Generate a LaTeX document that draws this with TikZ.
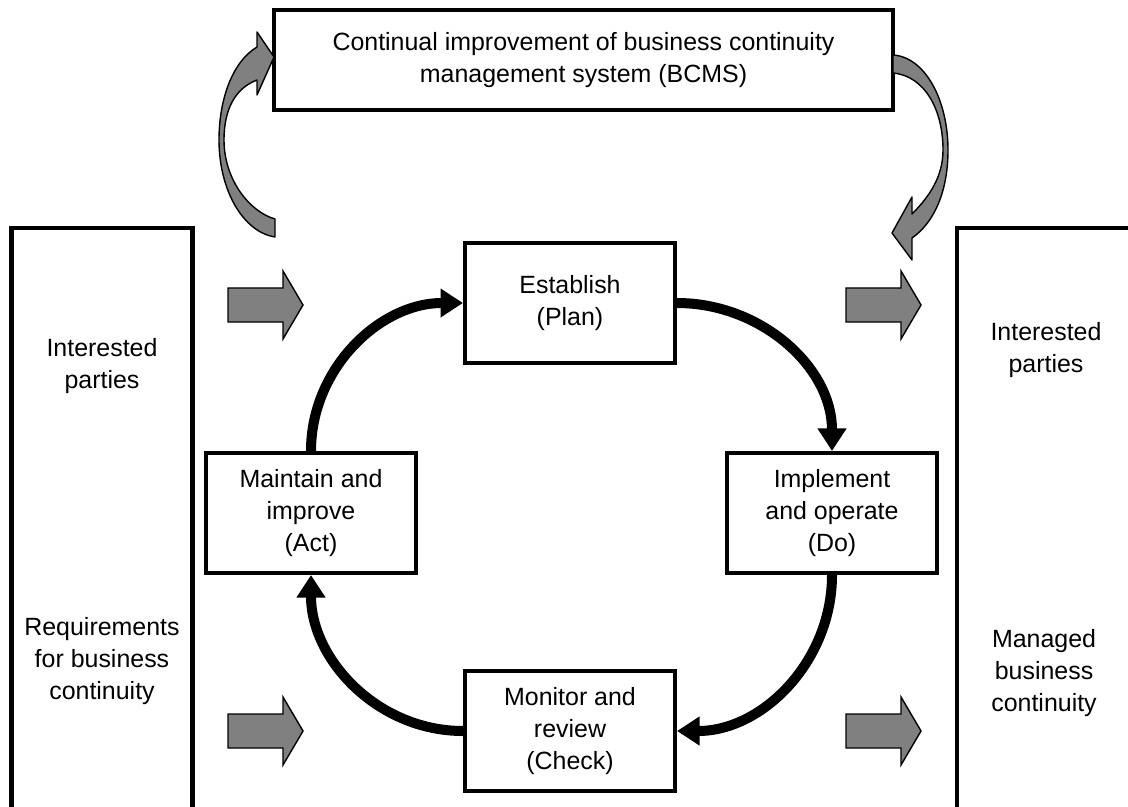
\documentclass[tikz,border=0pt]{standalone}
\usepackage{fontspec}
\setmainfont{Liberation Sans}
\usepackage{xcolor}
\usetikzlibrary{arrows.meta, positioning}

\definecolor{arrowgrey}{RGB}{128,128,128}

\tikzset{
    fatarrow/.pic={
        \path[draw=black, line width=0.8pt, fill=arrowgrey, line join=miter]
            (0,-17) -- (55,-17) -- (55,-34) -- (75,0) -- (55,34) -- (55,17) -- (0,17) -- cycle;
    },
}

\begin{document}
\begin{tikzpicture}[
    x=0.02cm, y=-0.02cm,
    font=\fontsize{14.2}{18}\selectfont,
    box/.style={draw, line width=2.3pt, rectangle, minimum width=4.2cm, minimum height=2.4cm, align=center, inner sep=2pt},
    side/.style={draw, line width=2.3pt, rectangle, minimum width=3.62cm, minimum height=12cm},
    txt/.style={align=center, inner sep=0pt},
    cyc/.style={line width=5.7pt, -{Triangle[width=0.55cm, length=0.45cm]}},
    curvedarrow/.style={draw=black, line width=0.8pt, fill=arrowgrey, line join=round},
]

\useasboundingbox (0,0) rectangle (1128,807);

% Top box
\node[box, minimum width=12.38cm, minimum height=2cm] (bcms) at (583.5,60)
    {Continual improvement of business continuity\\management system (BCMS)};

% Side boxes
\node[side, anchor=north] (inputs) at (102,226) {};
\node[side, anchor=north west, minimum width=4cm] (outputs) at (955,226) {};

% Side texts
\node[txt] (partiesin) at (102,366) {Interested\\parties};
\node[txt] (reqs) at (102,661) {Requirements\\for business\\continuity};
\node[txt] (partiesout) at (1046,350) {Interested\\parties};
\node[txt] (managed) at (1044,673) {Managed\\business\\continuity};

% PDCA boxes
\node[box] (plan) at (570,303) {Establish\\(Plan)};
\node[box] (do) at (832,513) {Implement\\and operate\\(Do)};
\node[box] (check) at (570,731) {Monitor and\\review\\(Check)};
\node[box] (act) at (311,513) {Maintain and\\improve\\(Act)};

% Cycle
\draw[cyc] (plan.east) to[out=0, in=90] (do.north);
\draw[cyc] (do.south) to[out=-90, in=0] (check.east);
\draw[cyc] (check.west) to[out=180, in=-90] (act.south);
\draw[cyc] (act.north) to[out=90, in=180] (plan.west);

% Grey block arrows
\pic at (228,305) {fatarrow};
\pic at (846,305) {fatarrow};
\pic at (228,731) {fatarrow};
\pic at (846,731) {fatarrow};

% Curved arrows around the top box
\path[curvedarrow] (257,47) .. controls (232,62) and (219,100) .. (219,140)
    .. controls (219,190) and (243,232) .. (275,237) -- (275,219)
    .. controls (250,212) and (224,180) .. (224,140)
    .. controls (224,108) and (236,88) .. (257,80)
    -- (257,95) -- (274,57) -- (257,32) -- cycle;
\path[curvedarrow] (893,55) .. controls (925,57) and (948,100) .. (948,150)
    .. controls (948,190) and (935,222) .. (912,238)
    -- (912,260) -- (892,233) -- (912,197) -- (912,214)
    .. controls (930,196) and (943,176) .. (943,150)
    .. controls (943,110) and (925,76) .. (893,73) -- cycle;

\end{tikzpicture}
\end{document}
